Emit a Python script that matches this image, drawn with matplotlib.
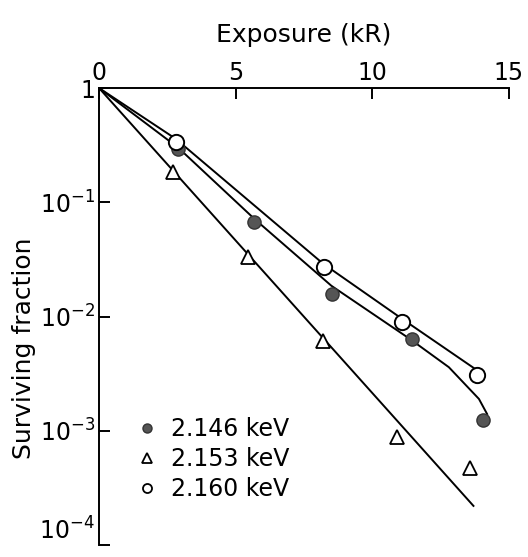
import numpy as np
import matplotlib
matplotlib.use("Agg")
import matplotlib.pyplot as plt
from matplotlib.lines import Line2D

# measured points, exposure in kR
x_146 = [2.88, 5.67, 8.51, 11.44, 14.06]
y_146 = [0.29, 0.067, 0.0157, 0.0063, 0.00124]
x_153 = [2.72, 5.46, 8.21, 10.89, 13.57]
y_153 = [0.184, 0.033, 0.0061, 0.00088, 0.00047]
x_160 = [2.81, 8.24, 11.10, 13.83]
y_160 = [0.34, 0.027, 0.0090, 0.0031]

# fitted curves as drawn
fit_x_146 = [0, 2.9, 5.7, 8.5, 11.4, 12.8, 13.9, 14.2]
fit_y_146 = [1, 0.30, 0.071, 0.0186, 0.0063, 0.0036, 0.0019, 0.0014]
fit_x_153 = [0, 13.7]
fit_y_153 = [1, 0.00022]
fit_x_160 = [0, 2.8, 8.2, 11.1, 13.9]
fit_y_160 = [1, 0.36, 0.029, 0.0095, 0.0033]

labels = ["2.146 keV", "2.153 keV", "2.160 keV"]

fig = plt.figure(figsize=(5.28, 5.57), dpi=100)
ax = fig.add_axes([0.1875, 0.0215, 0.7765, 0.8205])

ax.semilogy(fit_x_146, fit_y_146, color="black", lw=1.4)
ax.semilogy(fit_x_153, fit_y_153, color="black", lw=1.4)
ax.semilogy(fit_x_160, fit_y_160, color="black", lw=1.4)

ax.plot(x_146, y_146, "o", ms=9.5, mfc="#555555", mec="#333333", mew=1.0, zorder=3)
ax.plot(x_153, y_153, "^", ms=10, mfc="white", mec="black", mew=1.3, zorder=3)
ax.plot(x_160, y_160, "o", ms=11, mfc="white", mec="black", mew=1.4, zorder=3)

ax.set_xlim(0, 15)
ax.set_ylim(1e-4, 1)

for s in ["bottom", "right"]:
    ax.spines[s].set_visible(False)
ax.spines["left"].set_linewidth(1.4)
ax.spines["top"].set_linewidth(1.4)

ax.xaxis.tick_top()
ax.xaxis.set_label_position("top")
ax.set_xticks([0, 5, 10, 15])
ax.set_xticklabels(["0", "5", "10", "15"])
ax.tick_params(axis="x", direction="in", length=8, width=1.4, labelsize=17, pad=2)
ax.set_yticks([1, 1e-1, 1e-2, 1e-3, 1e-4])
ax.set_yticklabels(["1", r"$10^{-1}$", r"$10^{-2}$", r"$10^{-3}$", r"$10^{-4}$"])
ax.yaxis.set_minor_locator(matplotlib.ticker.NullLocator())
ax.tick_params(axis="y", direction="in", length=8, width=1.4, labelsize=17, pad=3)
# keep the lowest label inside the figure
ax.get_yticklabels()[-1].set_verticalalignment("bottom")

ax.set_xlabel("Exposure (kR)", fontsize=18, labelpad=14)
ax.set_ylabel("Surviving fraction", fontsize=18)
ax.yaxis.set_label_coords(-0.153, 0.43)

handles = [
    Line2D([], [], ls="", marker="o", ms=6.5, mfc="#555555", mec="#333333"),
    Line2D([], [], ls="", marker="^", ms=6.5, mfc="white", mec="black", mew=1.3),
    Line2D([], [], ls="", marker="o", ms=6.5, mfc="white", mec="black", mew=1.3),
]
ax.legend(handles, labels, loc="upper left", bbox_to_anchor=(0.06, 0.30),
          frameon=False, fontsize=17, handletextpad=0.4, labelspacing=0.25,
          handlelength=1.2, borderaxespad=0)

fig.savefig("out.png", dpi=100)
